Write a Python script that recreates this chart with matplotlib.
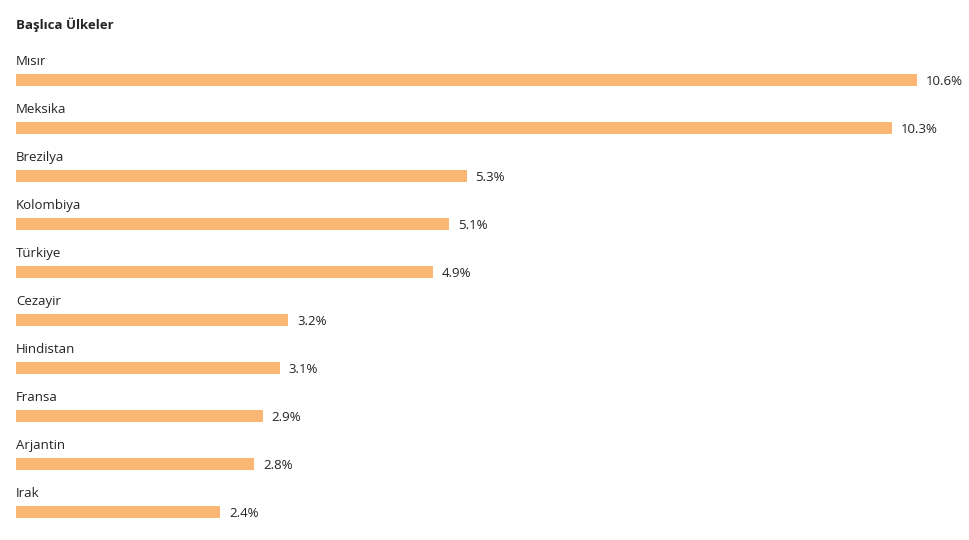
import matplotlib.pyplot as plt

countries = ['Mısır', 'Meksika', 'Brezilya', 'Kolombiya', 'Türkiye',
             'Cezayir', 'Hindistan', 'Fransa', 'Arjantin', 'Irak']
shares = [10.6, 10.3, 5.3, 5.1, 4.9, 3.2, 3.1, 2.9, 2.8, 2.4]
title = 'Başlıca Ülkeler'

bar_color = '#FBB673'
text_color = '#252423'

plt.rcParams['font.family'] = ['Open Sans', 'DejaVu Sans']

fig = plt.figure(figsize=(9.7, 5.4), dpi=100)
ax = fig.add_axes([0, 0, 1, 1])

# pixel layout: bars start at x=16, 85 px per percent; rows every 48 px from y=80
px_per_unit = 85.0
ax.set_xlim(-16 / px_per_unit, (970 - 16) / px_per_unit)
ax.set_ylim((540 - 80) / 48, -80 / 48)

rows = list(range(len(countries)))
ax.barh(rows, shares, height=12 / 48, color=bar_color, left=0)

for i, (name, v) in enumerate(zip(countries, shares)):
    ax.text(0, i - 18.5 / 48, name, ha='left', va='center',
            fontsize=9.5, color=text_color)
    ax.text(v + 9 / px_per_unit, i + 1.5 / 48, f'{v}%', ha='left', va='center',
            fontsize=9.5, color=text_color)

ax.text(0, (25 - 80) / 48, title, ha='left', va='center',
        fontsize=9.5, fontweight='bold', color=text_color)

ax.axis('off')
fig.savefig('out.png', dpi=100)
